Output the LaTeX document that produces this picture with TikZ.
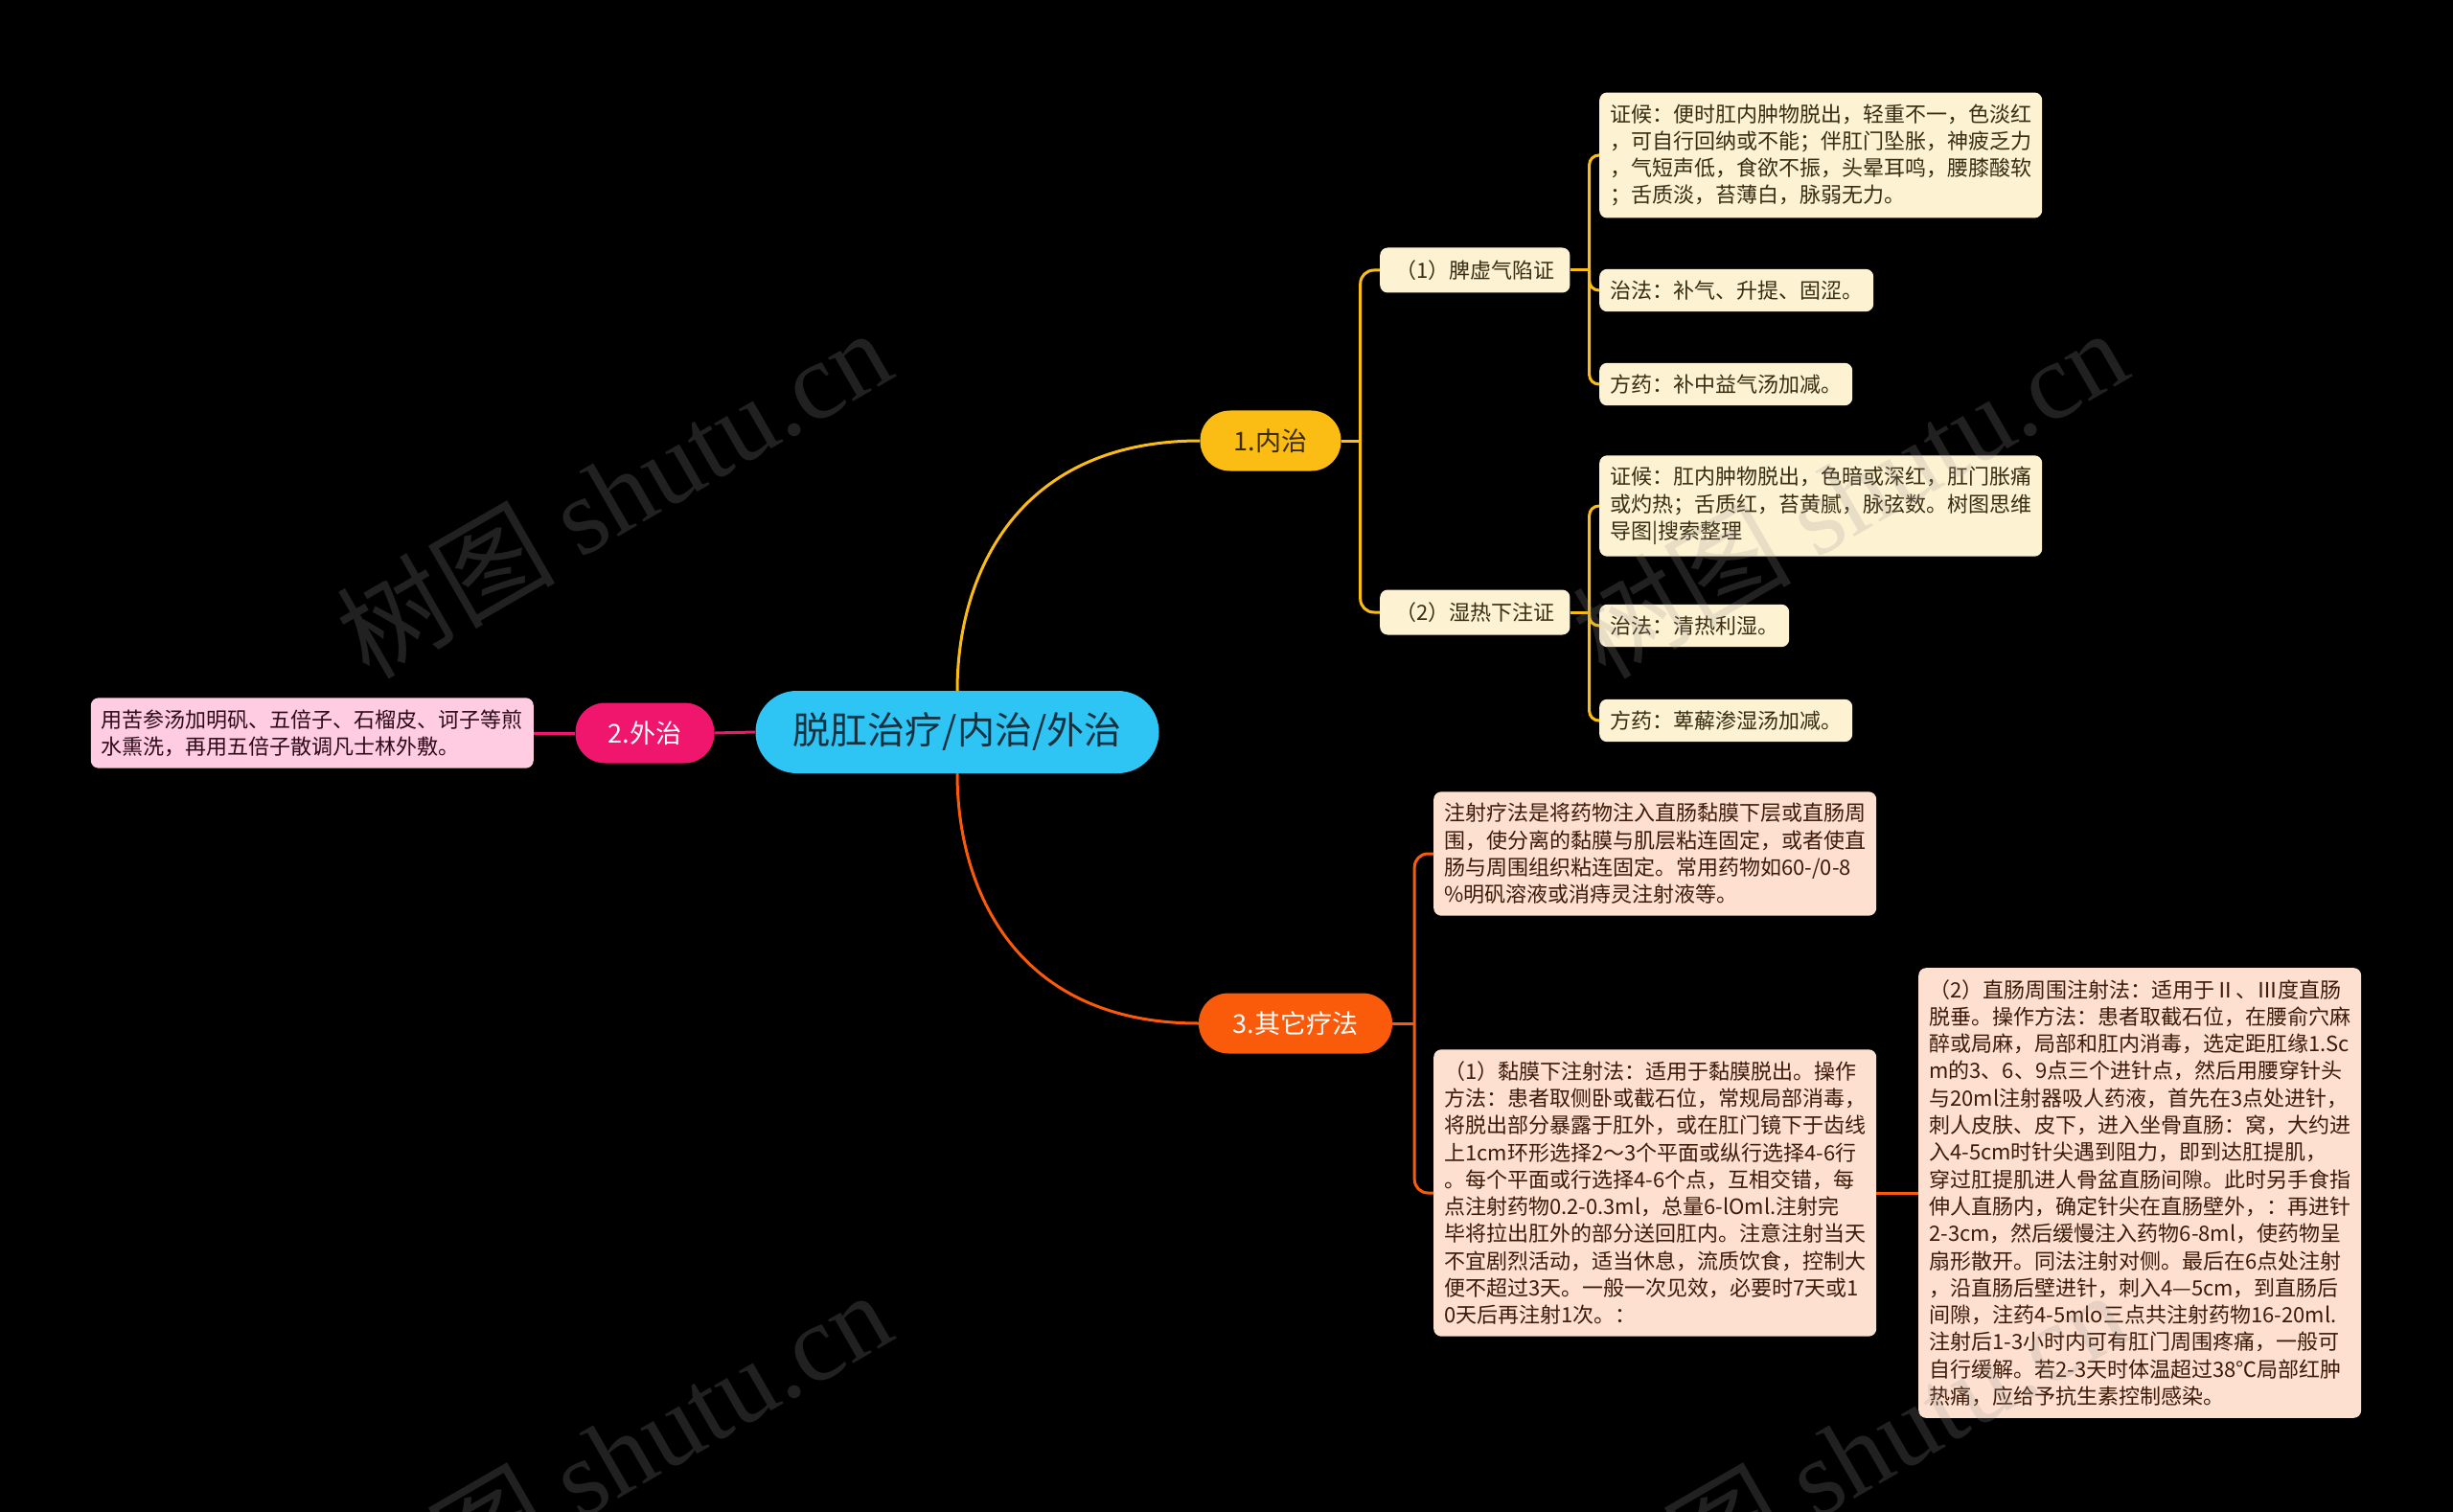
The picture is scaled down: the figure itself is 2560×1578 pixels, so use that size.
\documentclass[tikz,border=0pt]{standalone}
\usepackage{fontspec}
\setmainfont{Noto Sans CJK SC}
\newfontfamily\marklatin{Liberation Serif}
\usepackage{xcolor}
\usepackage{tikz}
\usetikzlibrary{shapes.misc}

\definecolor{bgblack}{HTML}{000000}
\definecolor{rootblue}{HTML}{2EC4F4}
\definecolor{roottext}{HTML}{15303F}
\definecolor{innergold}{HTML}{FBBD14}
\definecolor{innertext}{HTML}{3A2A05}
\definecolor{innercream}{HTML}{FDF2D2}
\definecolor{creamtext}{HTML}{3A2C12}
\definecolor{outerpink}{HTML}{F0156D}
\definecolor{outerlight}{HTML}{FFCCE1}
\definecolor{pinktext}{HTML}{2E0A1C}
\definecolor{otherorange}{HTML}{FA5B0B}
\definecolor{otherpeach}{HTML}{FDE0D0}
\definecolor{peachtext}{HTML}{3E1A08}
\definecolor{markgray}{HTML}{9A9A9A}

\tikzset{
  rootnode/.style={fill=rootblue,text=roottext,rounded corners=43pt,minimum width=421pt,minimum height=86pt,inner sep=0pt,font=\fontsize{39pt}{46pt}\selectfont},
  maintopic/.style={rounded corners=31pt,minimum height=63pt,inner sep=0pt,font=\fontsize{27pt}{32pt}\selectfont},
  subtopic/.style={fill=innercream,text=creamtext,rounded corners=8pt,minimum height=47pt,inner xsep=16pt,inner ysep=0pt,font=\fontsize{22pt}{28pt}\selectfont},
  leafbox/.style={rounded corners=8pt,align=left,inner xsep=11pt,inner ysep=12pt,font=\fontsize{22pt}{28.3pt}\selectfont},
  innerleaf/.style={leafbox,fill=innercream,text=creamtext},
  outerleaf/.style={leafbox,fill=outerlight,text=pinktext},
  otherleaf/.style={leafbox,fill=otherpeach,text=peachtext},
  innerlink/.style={draw=innergold,line width=3pt},
  outerlink/.style={draw=outerpink,line width=3pt},
  otherlink/.style={draw=otherorange,line width=3pt},
  shutumark/.style={text=markgray,opacity=0.22,rotate=30,font=\fontsize{114pt}{114pt}\selectfont},
}

\begin{document}
\begin{tikzpicture}[x=1pt,y=-1pt]
\fill[bgblack] (0,0) rectangle (2560,1578);
\useasboundingbox (0,0) rectangle (2560,1578);

\node[rootnode] (root) at (999,764) {脱肛治疗/内治/外治};
\node[maintopic,fill=innergold,text=innertext,minimum width=147pt] (inner) at (1326,460) {1.内治};
\node[maintopic,fill=outerpink,text=white,minimum width=145pt] (outer) at (673,765) {2.外治};
\node[maintopic,fill=otherorange,text=white,minimum width=202pt] (other) at (1352,1068) {3.其它疗法};

\node[subtopic,anchor=west] (spleen) at (1440,282) {（1）脾虚气陷证};
\node[subtopic,anchor=west] (damp) at (1440,639) {（2）湿热下注证};

\node[innerleaf,anchor=west] (spleensign) at (1669,162) {证候：便时肛内肿物脱出，轻重不一，色淡红\\，可自行回纳或不能；伴肛门坠胀，神疲乏力\\，气短声低，食欲不振，头晕耳鸣，腰膝酸软\\；舌质淡，苔薄白，脉弱无力。};
\node[innerleaf,anchor=west] (spleencure) at (1669,303) {治法：补气、升提、固涩。};
\node[innerleaf,anchor=west] (spleendrug) at (1669,401) {方药：补中益气汤加减。};
\node[innerleaf,anchor=west] (dampsign) at (1669,528) {证候：肛内肿物脱出，色暗或深红，肛门胀痛\\或灼热；舌质红，苔黄腻，脉弦数。树图思维\\导图|搜索整理};
\node[innerleaf,anchor=west] (dampcure) at (1669,653) {治法：清热利湿。};
\node[innerleaf,anchor=west] (dampdrug) at (1669,752) {方药：萆薢渗湿汤加减。};

\node[outerleaf,anchor=east] (wash) at (557,765) {用苦参汤加明矾、五倍子、石榴皮、诃子等煎\\水熏洗，再用五倍子散调凡士林外敷。};

\node[otherleaf,anchor=west] (inject) at (1496,891) {注射疗法是将药物注入直肠黏膜下层或直肠周\\围，使分离的黏膜与肌层粘连固定，或者使直\\肠与周围组织粘连固定。常用药物如60-/0-8\\\%明矾溶液或消痔灵注射液等。};
\node[otherleaf,anchor=west] (mucosa) at (1496,1245) {（1）黏膜下注射法：适用于黏膜脱出。操作\\方法：患者取侧卧或截石位，常规局部消毒，\\将脱出部分暴露于肛外，或在肛门镜下于齿线\\上1cm环形选择2～3个平面或纵行选择4-6行\\。每个平面或行选择4-6个点，互相交错，每\\点注射药物0.2-0.3ml，总量6-lOml.注射完\\毕将拉出肛外的部分送回肛内。注意注射当天\\不宜剧烈活动，适当休息，流质饮食，控制大\\便不超过3天。一般一次见效，必要时7天或1\\0天后再注射1次。：};
\node[otherleaf,anchor=west] (rectal) at (2002,1245) {（2）直肠周围注射法：适用于Ⅱ、Ⅲ度直肠\\脱垂。操作方法：患者取截石位，在腰俞穴麻\\醉或局麻，局部和肛内消毒，选定距肛缘1.Sc\\m的3、6、9点三个进针点，然后用腰穿针头\\与20ml注射器吸人药液，首先在3点处进针，\\刺人皮肤、皮下，进入坐骨直肠：窝，大约进\\入4-5cm时针尖遇到阻力，即到达肛提肌，\\穿过肛提肌进人骨盆直肠间隙。此时另手食指\\伸人直肠内，确定针尖在直肠壁外，：再进针\\2-3cm，然后缓慢注入药物6-8ml，使药物呈\\扇形散开。同法注射对侧。最后在6点处注射\\，沿直肠后壁进针，刺入4—5cm，到直肠后\\间隙，注药4-5mlo三点共注射药物16-20ml.\\注射后1-3小时内可有肛门周围疼痛，一般可\\自行缓解。若2-3天时体温超过38℃局部红肿\\热痛，应给予抗生素控制感染。};

\coordinate (innerfork) at ([xshift=20pt]inner.east);
\coordinate (spleenfork) at ([xshift=20pt]spleen.east);
\coordinate (dampfork) at ([xshift=20pt]damp.east);
\coordinate (otherfork) at ([xshift=23pt]other.east);

\draw[innerlink] (root.north) .. controls +(0,-122) and +(-190,0) .. (inner.west);
\draw[otherlink] (root.south) .. controls +(0,122) and +(-190,0) .. (other.west);
\draw[outerlink] (root.west) -- (outer.east);
\draw[outerlink] (outer.west) -- (wash.east);

\draw[innerlink] (inner.east) -- (innerfork);
\draw[innerlink,rounded corners=14pt] (innerfork) |- (spleen.west);
\draw[innerlink,rounded corners=14pt] (innerfork) |- (damp.west);

\draw[innerlink] (spleen.east) -- (spleenfork);
\draw[innerlink,rounded corners=10pt] (spleenfork) |- (spleensign.west);
\draw[innerlink,rounded corners=10pt] (spleenfork) |- (spleencure.west);
\draw[innerlink,rounded corners=10pt] (spleenfork) |- (spleendrug.west);

\draw[innerlink] (damp.east) -- (dampfork);
\draw[innerlink,rounded corners=10pt] (dampfork) |- (dampsign.west);
\draw[innerlink,rounded corners=10pt] (dampfork) |- (dampcure.west);
\draw[innerlink,rounded corners=10pt] (dampfork) |- (dampdrug.west);

\draw[otherlink] (other.east) -- (otherfork);
\draw[otherlink,rounded corners=14pt] (otherfork) |- (inject.west);
\draw[otherlink,rounded corners=14pt] (otherfork) |- (mucosa.west);
\draw[otherlink] (mucosa.east) -- (rectal.west);

\node[shutumark] (markA) at (640,514) {树图 {\marklatin shutu.cn}};
\node[shutumark] (markB) at (1930,514) {树图 {\marklatin shutu.cn}};
\node[shutumark] (markC) at (640,1518) {树图 {\marklatin shutu.cn}};
\node[shutumark] (markD) at (1930,1518) {树图 {\marklatin shutu.cn}};
\end{tikzpicture}
\end{document}
